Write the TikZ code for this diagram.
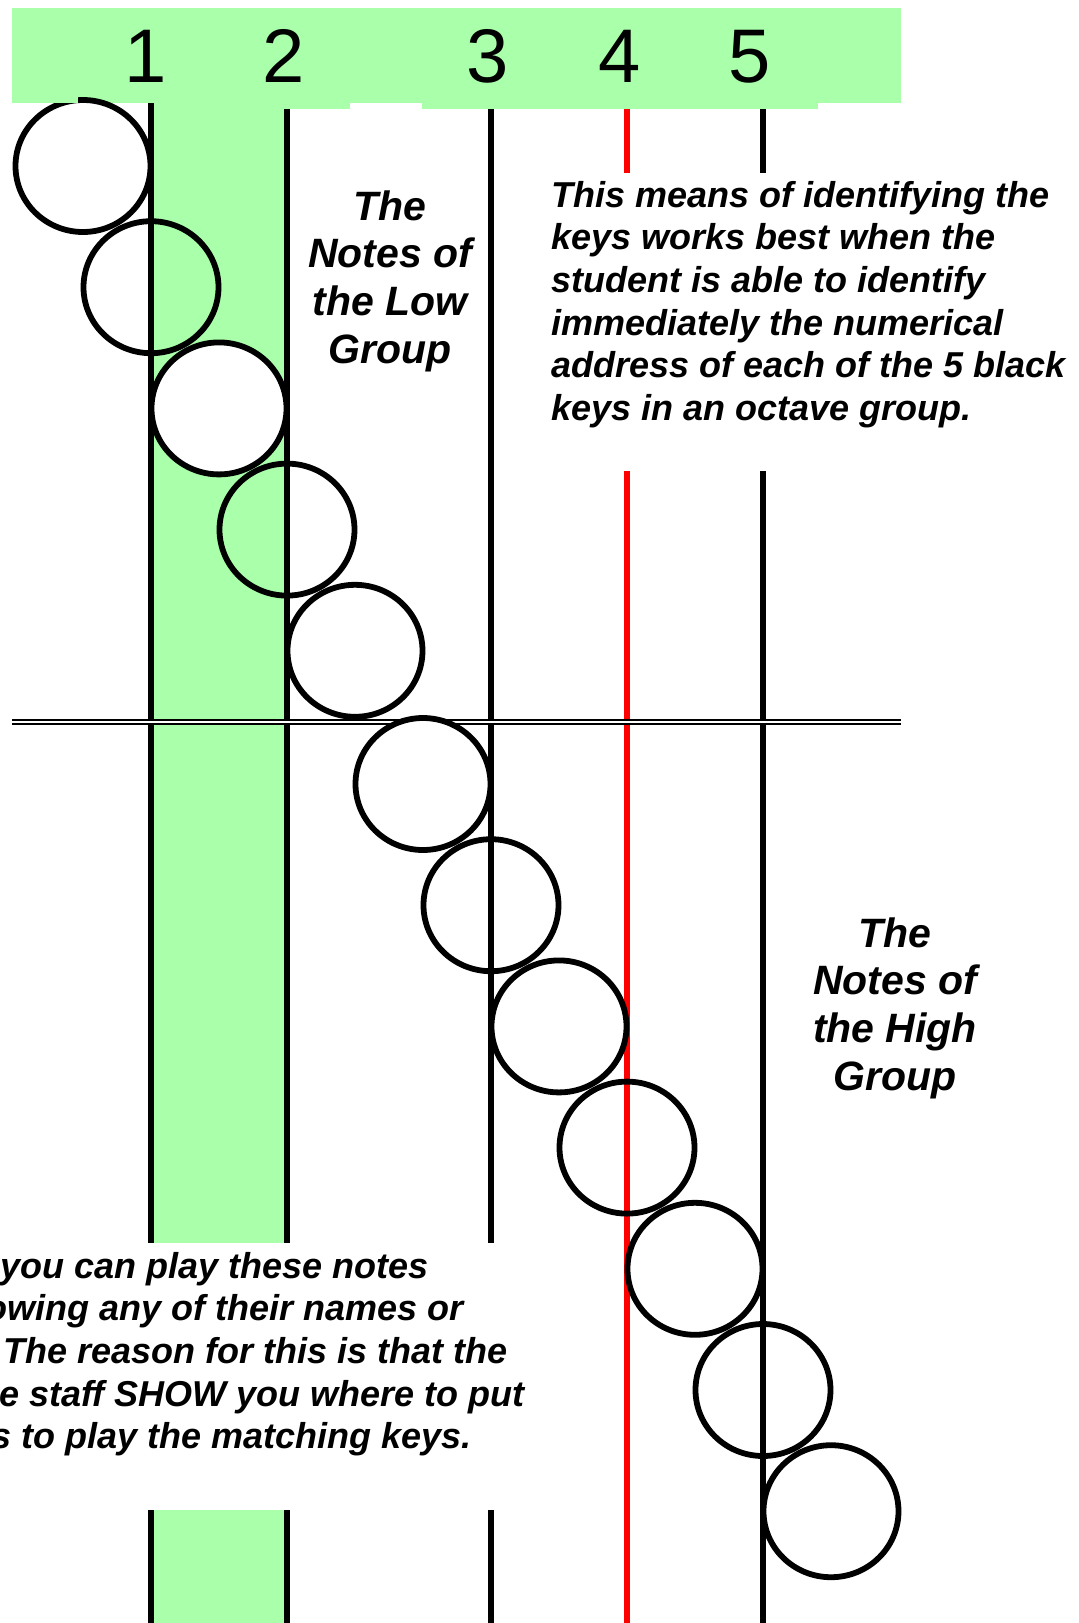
\documentclass[tikz,border=0pt]{standalone}
\usepackage{fontspec}
\setmainfont{Liberation Sans}
\usetikzlibrary{shapes.geometric}
\definecolor{keygreen}{RGB}{170,255,170}
\definecolor{keyred}{RGB}{255,0,0}

\begin{document}
\begin{tikzpicture}[x=1pt,y=-1pt,
  keyline/.style={line width=5.2pt, line cap=butt},
  note/.style={ellipse, draw=black, line width=5.8pt, minimum width=135pt,
    minimum height=132pt, inner sep=0pt, outer sep=0pt},
  opennote/.style={note},
  whitenote/.style={note, fill=white},
  numeral/.style={font=\fontsize{76}{76}\selectfont, inner sep=0pt, anchor=base},
  remark/.style={font=\fontsize{36}{42.7}\selectfont\bfseries\itshape,
    inner sep=0pt, anchor=base west},
  heading/.style={font=\fontsize{41}{47.7}\selectfont\bfseries\itshape,
    inner sep=0pt, anchor=base},
]
\useasboundingbox (0,0) rectangle (1079,1623);
\clip (0,0) rectangle (1079,1623);

% shaded column between key lines 1 and 2
\fill[keygreen] (151,100) rectangle (287,1243);
\fill[keygreen] (151,1510) rectangle (287,1623);

% key lines 1, 2, 3 (broken by the lower text)
\foreach \x in {151,287,491}{
  \draw[keyline] (\x,100) -- (\x,1243);
  \draw[keyline] (\x,1510) -- (\x,1623);
}
% key lines 4 (red) and 5 (broken by the upper text)
\draw[keyline, keyred] (627,100) -- (627,173);
\draw[keyline, keyred] (627,471) -- (627,1623);
\draw[keyline] (763,100) -- (763,173);
\draw[keyline] (763,471) -- (763,1623);

% header band with the key numbers
\fill[keygreen] (12,8) rectangle (901,103);
\fill[keygreen] (220,103) rectangle (350,108.5);
\fill[keygreen] (422,103) rectangle (818,108.5);
\node[numeral] (d1) at (146,82) {1};
\node[numeral] (d2) at (284,82) {2};
\node[numeral] (d3) at (488,82) {3};
\node[numeral] (d4) at (620,82) {4};
\node[numeral] (d5) at (750,82) {5};

% double line dividing the low and high groups
\draw[line width=2.8pt] (12,719.9) -- (901,719.9);
\draw[line width=2.2pt] (12,724.3) -- (901,724.3);
\fill[white] (12,721.3) rectangle (901,723.2);

% the twelve notes
\foreach \i/\s in {1/whitenote,2/opennote,3/whitenote,4/opennote,5/whitenote}{
  \node[\s] (n\i) at ({83+68*(\i-1)},{166+121.2*(\i-1)}) {};
}
\foreach \i/\s in {6/whitenote,7/opennote,8/whitenote,9/opennote,10/whitenote,11/opennote,12/whitenote}{
  \node[\s] (n\i) at ({83+68*(\i-1)},{784+121.2*(\i-6)}) {};
}
% header corner over the first note
\fill[keygreen] (12,8) rectangle (78,103);

% group headings
\foreach \t [count=\i from 0] in {The,Notes of,the Low,Group}{
  \node[heading] (low\i) at (390,{220+47.7*\i}) {\t};
}
\foreach \t [count=\i from 0] in {The,Notes of,the High,Group}{
  \node[heading] (high\i) at (895,{947+47.7*\i}) {\t};
}

% explanation at the upper right
\foreach \t [count=\i from 0] in {This means of identifying the,keys works best when the,student is able to identify,immediately the numerical,address of each of the 5 black,keys in an octave group.}{
  \node[remark] (m\i) at (551,{207+42.7*\i}) {\t};
}

% explanation at the lower left
\node[remark] (b0) at (0,1278) {you can play these notes};
\node[remark] (b1) at (-15,{1278+42.7}) {owing any of their names or};
\node[remark] (b2) at (3,{1278+2*42.7}) {The reason for this is that the};
\node[remark] (b3) at (-1,{1278+3*42.7}) {e staff SHOW you where to put};
\node[remark] (b4) at (-9,{1278+4*42.7}) {s to play the matching keys.};
\end{tikzpicture}
\end{document}
